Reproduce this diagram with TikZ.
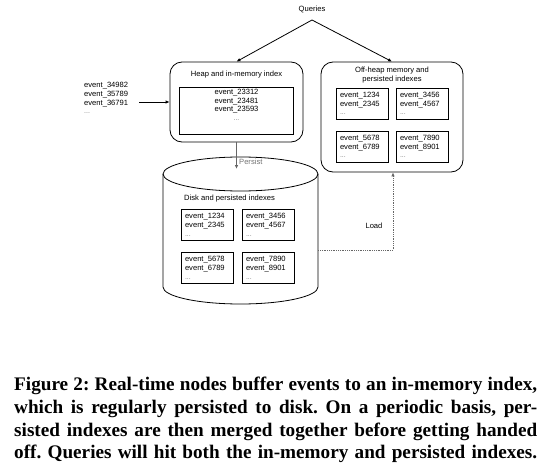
\documentclass[tikz,border=0pt]{standalone}
\usepackage{fontspec}
\setmainfont{Liberation Serif}
\newfontfamily\diafont{Liberation Sans}
\usetikzlibrary{arrows.meta,positioning}
\frenchspacing
\tikzset{
  dia/.style={font=\diafont\fontsize{7.6}{8.6}\selectfont, inner sep=0pt},
  outerbox/.style={draw, line width=0.8pt, rounded corners=12pt, inner sep=0pt},
  innerbox/.style={draw, line width=0.8pt, inner sep=0pt},
  evbox/.style={innerbox, minimum width=52pt, minimum height=31pt, text width=44pt, align=left, font=\diafont\fontsize{7.6}{8.8}\selectfont},
  arr/.style={line width=0.8pt, -{Latex[length=4pt,width=3.5pt]}},
}
\newcommand{\dd}{\textcolor{black!50}{\fontsize{7}{6}\selectfont...}}
\newcommand{\capline}[1]{\makebox[523pt][s]{\frenchspacing #1}}
\begin{document}
\begin{tikzpicture}[x=1pt,y=-1pt]
\useasboundingbox (0,0) rectangle (550,466);
\fill[white] (0,0) rectangle (550,466);

% Queries
\node[dia] (q) at (312,9) {Queries};
\coordinate (apex) at (312,20);

% heap box
\node[outerbox, minimum width=133pt, minimum height=80pt] (heap) at (236.5,102) {};
\node[dia] (heaptitle) at (236.5,75) {Heap and in-memory index};
\node[innerbox, minimum width=114pt, minimum height=47pt] (heapin) at (236.5,110.5) {};
\node[dia, anchor=north, align=center, font=\diafont\fontsize{7.6}{8.6}\selectfont] (heaptext) at (236.5,89) {event\_23312\\event\_23481\\event\_23593\\\dd};

% left events
\node[dia, anchor=north west, align=left, font=\diafont\fontsize{7.6}{8.8}\selectfont] (inev) at (84,82) {event\_34982\\event\_35789\\event\_36791\\\dd};
\coordinate (inarr) at (139,102);
\draw[arr] (inarr) -- (heap.west |- inarr);

% off-heap box
\node[outerbox, minimum width=142pt, minimum height=110pt] (off) at (392,117) {};
\node[dia, align=center, font=\diafont\fontsize{7.6}{9}\selectfont] (offtitle) at (392,75.5) {Off-heap memory and\\persisted indexes};
\node[evbox] (o1) at (362,103.5) {event\_1234\\event\_2345\\\dd};
\node[evbox] (o2) at (422,103.5) {event\_3456\\event\_4567\\\dd};
\node[evbox] (o3) at (362,146.5) {event\_5678\\event\_6789\\\dd};
\node[evbox] (o4) at (422,146.5) {event\_7890\\event\_8901\\\dd};

% queries arrows
\draw[arr] (apex) -- (heap.north);
\draw[arr] (apex) -- (off.north);

% cylinder (disk)
\node[minimum width=155pt, minimum height=147pt, inner sep=0pt] (disk) at (240.5,230.5) {};
\draw[line width=0.8pt, fill=white] (163,174) -- (163,287) arc[start angle=180, end angle=360, x radius=77.5, y radius=-17] -- (318,174);
\draw[line width=0.8pt] (240.5,174) ellipse[x radius=77.5, y radius=17];
\node[dia, anchor=west] (disktitle) at (184,199) {Disk and persisted indexes};
\node[evbox] (c1) at (207,225) {event\_1234\\event\_2345\\\dd};
\node[evbox] (c2) at (268,225) {event\_3456\\event\_4567\\\dd};
\node[evbox] (c3) at (207,268) {event\_5678\\event\_6789\\\dd};
\node[evbox] (c4) at (268,268) {event\_7890\\event\_8901\\\dd};

% persist
\coordinate (persistend) at (236.5,169);
\draw[arr, draw=black!60, fill=black!60] (heap.south) -- (persistend);
\node[dia, anchor=west, text=black!55] (persist) at (239,162) {Persist};

% load
\coordinate (loadcorner) at (393,250);
\draw[arr, densely dotted, draw=black!60] (disk.east |- loadcorner) -- (loadcorner) -- (loadcorner |- off.south);
\node[dia] (load) at (374,225.5) {Load};

% caption
\node[anchor=north west, inner sep=0pt, align=left,
  font=\bfseries\fontsize{19.2}{22.7}\selectfont] (cap) at (14,377)
  {\capline{Figure 2: Real-time nodes buffer events to an in-memory index,}\\
  \capline{which is regularly persisted to disk. On a periodic basis, per-}\\
  \capline{sisted indexes are then merged together before getting handed}\\
  \capline{off. Queries will hit both the in-memory and persisted indexes.}};
\end{tikzpicture}
\end{document}
